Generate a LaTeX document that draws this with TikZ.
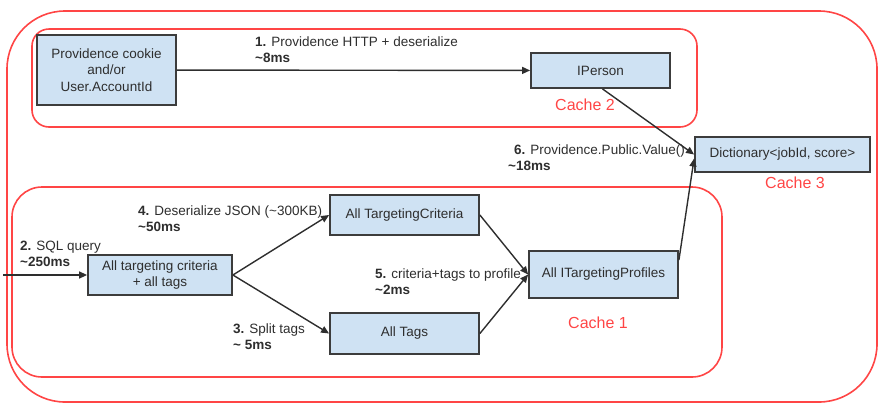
\documentclass[tikz,border=0pt]{standalone}
\usepackage{fontspec}
\setmainfont{Liberation Sans}
\usetikzlibrary{arrows.meta,calc}
\definecolor{boxfill}{HTML}{CFE2F3}
\definecolor{boxdraw}{HTML}{3C3C3C}
\definecolor{txt}{HTML}{2E2E2E}
\definecolor{cred}{HTML}{FF4545}
\tikzset{
  bx/.style={draw=boxdraw, line width=1.8pt, fill=boxfill, text=txt, font=\fontsize{13.5}{16.5}\selectfont, align=center, inner sep=0pt},
  cachebox/.style={draw=cred, line width=1.6pt},
  cachelbl/.style={text=cred, font=\fontsize{16}{19}\selectfont, inner sep=0pt},
  lbl/.style={text=txt, font=\fontsize{13.5}{16}\selectfont, align=left, inner sep=0pt, anchor=base west},
  arr/.style={draw=txt, line width=1.4pt, -{Triangle[length=8pt,width=7pt]}},
}
\newcommand{\tl}{\textasciitilde}
\begin{document}
\begin{tikzpicture}[x=1pt,y=-1pt]
\useasboundingbox (0,0) rectangle (880,408);
% cache frames
\draw[cachebox, rounded corners=58pt] (7,11) rectangle (877,402);
\draw[cachebox, rounded corners=17pt] (32,29) rectangle (697,127);
\draw[cachebox, rounded corners=30pt] (12,187) rectangle (722,377);
\node[cachelbl] (c2) at (585,105) {Cache 2};
\node[cachelbl] (c3) at (795,183) {Cache 3};
\node[cachelbl] (c1) at (598,323) {Cache 1};
% boxes
\node[bx, minimum width=139pt, minimum height=70pt] (cookie) at (106.5,70) {Providence cookie\\and/or\\User.AccountId};
\node[bx, minimum width=139pt, minimum height=35pt] (person) at (600.5,70.5) {IPerson};
\node[bx, minimum width=175pt, minimum height=35pt] (dict) at (782.5,154.5) {Dictionary<jobId, score>};
\node[bx, minimum width=144pt, minimum height=40pt] (all) at (160,275) {All targeting criteria\\+ all tags};
\node[bx, minimum width=149pt, minimum height=40pt] (crit) at (404.5,215) {All TargetingCriteria};
\node[bx, minimum width=149pt, minimum height=41pt] (tags) at (404.5,333.5) {All Tags};
\node[bx, minimum width=149pt, minimum height=47pt] (prof) at (603.5,274.5) {All ITargetingProfiles};
% arrows
\coordinate (src) at (3,275);
\draw[arr] (cookie) -- (person);
\draw[arr] (src) -- (all);
\draw[arr] (all.east) -- (crit.west);
\draw[arr] (all.east) -- (tags.west);
\draw[arr] (crit.east) -- (prof.west);
\draw[arr] (tags.east) -- (prof.west);
\draw[arr] ($(person.south)+(2,0)$) -- ($(dict.west)+(0,0)$);
\draw[arr] ($(prof.north east)+(0,10)$) -- ($(dict.west)+(0,4)$);
% labels (anchored at the baseline of the last line)
\node[lbl] (l1) at (255,62) {\textbf{1.} Providence HTTP + deserialize\\\textbf{\tl8ms}};
\node[lbl] (l2) at (20,266) {\textbf{2.} SQL query\\\textbf{\tl250ms}};
\node[lbl] (l4) at (138,231) {\textbf{4.} Deserialize JSON (\tl300KB)\\\textbf{\tl50ms}};
\node[lbl] (l3) at (233,349) {\textbf{3.} Split tags\\\textbf{\tl\ 5ms}};
\node[lbl] (l5) at (375,294) {\textbf{5.} criteria+tags to profile\\\textbf{\tl2ms}};
\node[lbl] (l6) at (508,170) {\hspace*{6pt}\textbf{6.} Providence.Public.Value()\\\textbf{\tl18ms}};
\end{tikzpicture}
\end{document}
